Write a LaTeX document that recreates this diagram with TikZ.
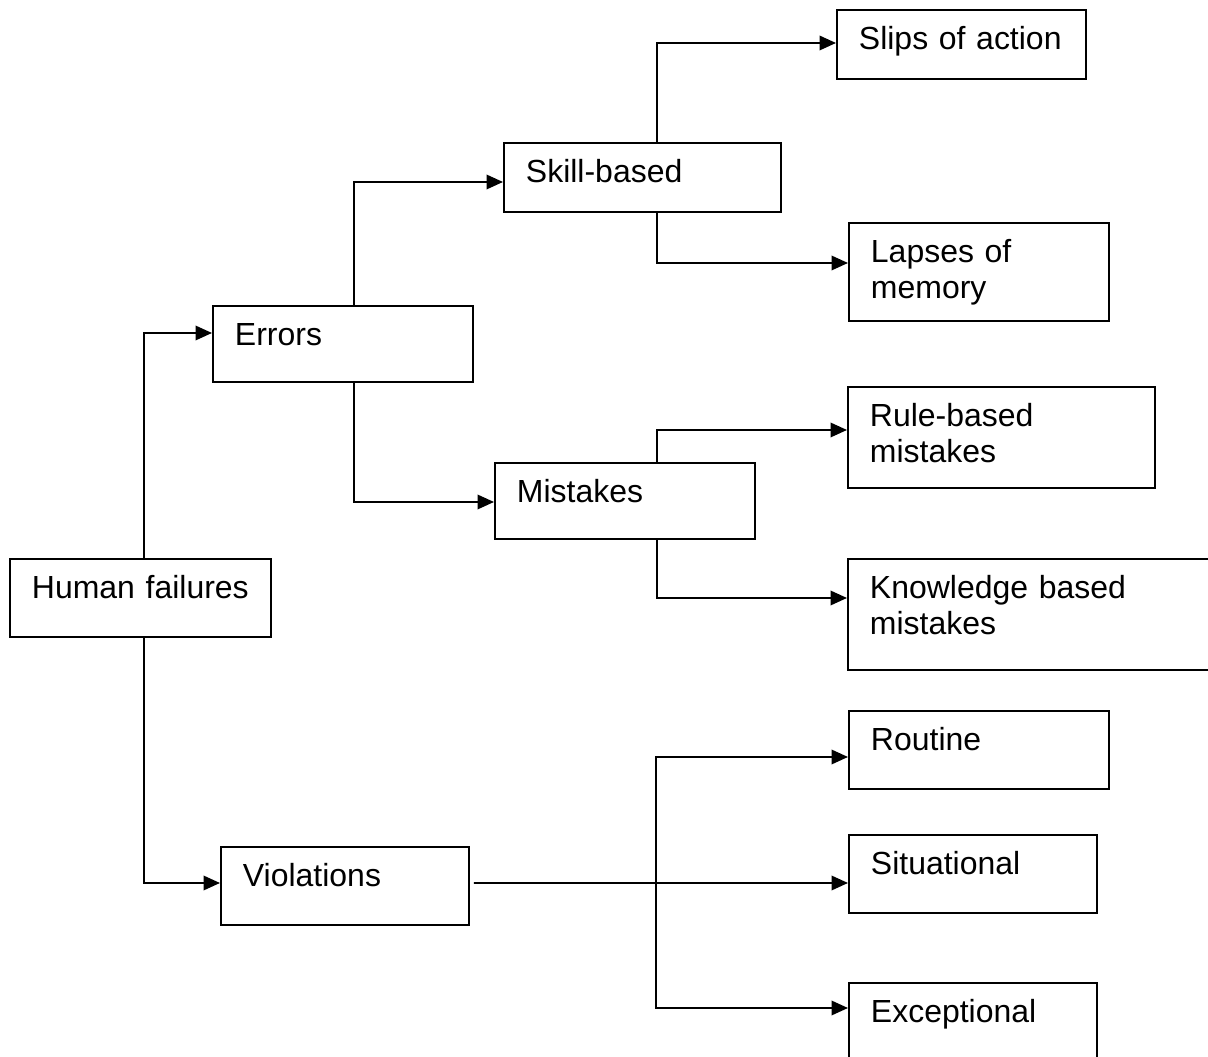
\documentclass[tikz,border=0pt]{standalone}
\usepackage{fontspec}
\setmainfont{Liberation Sans}
\usetikzlibrary{arrows.meta}
\begin{document}
\begin{tikzpicture}[x=0.02cm, y=-0.02cm,
        box/.style 2 args={draw, line width=1.1pt, anchor=north west,
            inner xsep=0.44cm, inner ysep=0pt, align=left,
            text height=0.8cm, text width=#1, text depth=#2,
            font=\fontsize{18.2pt}{20.5pt}\selectfont},
        link/.style={line width=1.1pt},
        arr/.style={link, -{Triangle[length=0.33cm, width=0.29cm]}}]
    \useasboundingbox (0,0) rectangle (1208,1057);
    \node[box={4.34cm}{0.76cm}] (human) at (9,558) {Human failures};
    \node[box={4.32cm}{0.72cm}] (errors) at (212,305) {Errors};
    \node[box={4.08cm}{0.76cm}] (violations) at (220,846) {Violations};
    \node[box={4.66cm}{0.58cm}] (skill) at (503,142) {Skill-based};
    \node[box={4.32cm}{0.72cm}] (mistakes) at (494,462) {Mistakes};
    \node[box={4.10cm}{0.58cm}] (slips) at (836,9) {Slips of action};
    \node[box={4.32cm}{1.16cm}] (lapses) at (848,222) {Lapses of\\memory};
    \node[box={5.26cm}{1.22cm}] (rule) at (847,386) {Rule-based\\mistakes};
    \node[box={6.48cm}{1.42cm}] (knowledge) at (847,558) {Knowledge based\\mistakes};
    \node[box={4.32cm}{0.76cm}] (routine) at (848,710) {Routine};
    \node[box={4.08cm}{0.76cm}] (situational) at (848,834) {Situational};
    \node[box={4.08cm}{1.20cm}] (exceptional) at (848,982) {Exceptional};
    \coordinate (vjoin) at (656,883);

    \draw[arr] ([xshift=0.07cm]human.north) |- ([yshift=-0.56cm]errors.north west);
    \draw[arr] ([xshift=0.07cm]human.south) |- ([yshift=-0.74cm]violations.north west);
    \draw[arr] ([xshift=0.22cm]errors.north) |- ([yshift=-0.8cm]skill.north west);
    \draw[arr] ([xshift=0.22cm]errors.south) |- ([yshift=-0.8cm]mistakes.north west);
    \draw[arr] ([xshift=0.29cm]skill.north) |- ([yshift=-0.68cm]slips.north west);
    \draw[arr] ([xshift=0.29cm]skill.south) |- ([yshift=-0.82cm]lapses.north west);
    \draw[arr] ([xshift=0.64cm]mistakes.north) |- ([yshift=-0.88cm]rule.north west);
    \draw[arr] ([xshift=0.64cm]mistakes.south) |- ([yshift=-0.8cm]knowledge.north west);
    \draw[arr] ([xshift=0.08cm, yshift=-0.74cm]violations.north east) -- ([yshift=-0.98cm]situational.north west);
    \draw[arr] (vjoin) |- ([yshift=-0.94cm]routine.north west);
    \draw[arr] (vjoin) |- ([yshift=-0.52cm]exceptional.north west);
\end{tikzpicture}
\end{document}
